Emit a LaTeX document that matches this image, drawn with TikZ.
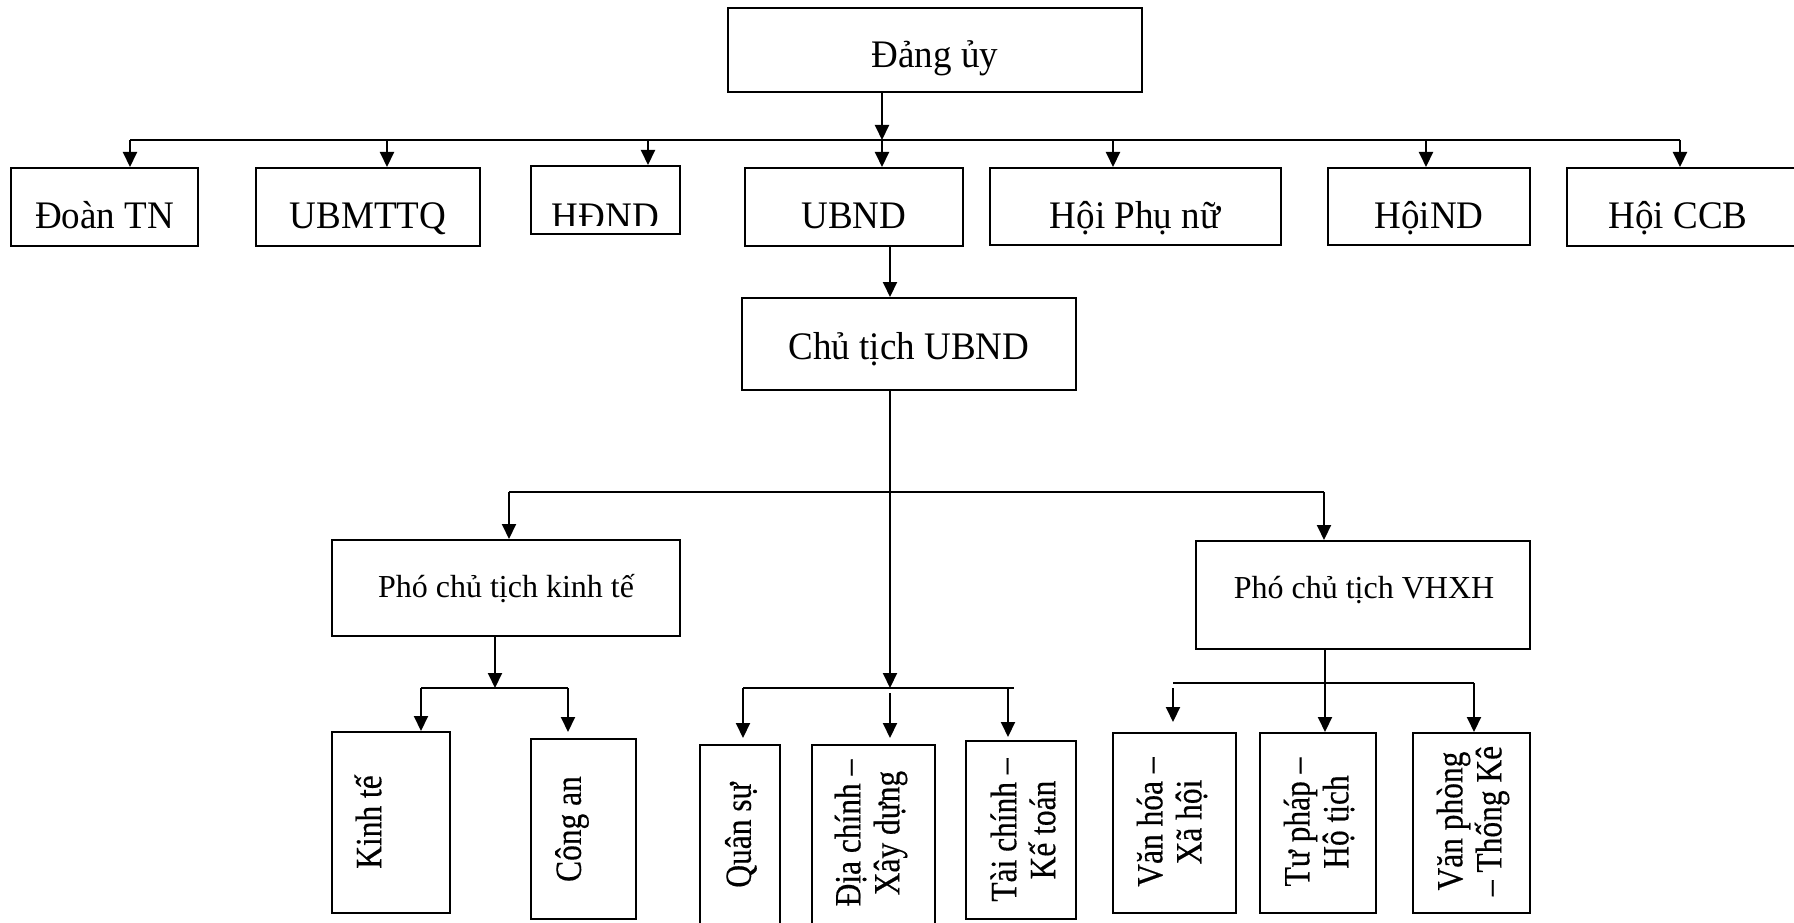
\documentclass[tikz,border=0pt]{standalone}
\usepackage{fontspec}
\setmainfont{Liberation Serif}
\newfontfamily\bigfont[FakeStretch=0.95]{Liberation Serif}
\newfontfamily\rotfont[FakeStretch=0.85,FakeBold=0.4]{Liberation Serif}
\usetikzlibrary{arrows.meta,fit}
\begin{document}
\begin{tikzpicture}[x=1pt,y=-1pt,
  box/.style={draw,line width=2pt,inner sep=0pt},
  ln/.style={line width=2pt},
  arr/.style={line width=2pt,-{Triangle[width=14pt,length=15pt]}},
  big/.style={font=\bigfont\fontsize{39}{46}\selectfont,inner sep=0pt,anchor=base},
  mid/.style={font=\fontsize{32}{38}\selectfont,inner sep=0pt,anchor=base},
  rot/.style={font=\rotfont\fontsize{37}{39}\selectfont,inner sep=0pt,rotate=90,align=center}]
\useasboundingbox (0,0) rectangle (1794,923);
% boxes
\node[box,fit={(728,8) (1142,92)}] (dang) {};
\node[box,fit={(11,168) (198,246)}] (doan) {};
\node[box,fit={(256,168) (480,246)}] (ubm) {};
\node[box,fit={(531,166) (680,234)}] (hdnd) {};
\node[box,fit={(745,168) (963,246)}] (ubnd) {};
\node[box,fit={(990,168) (1281,245)}] (phunu) {};
\node[box,fit={(1328,168) (1530,245)}] (hnd) {};
\node[box,fit={(1567,168) (1810,246)}] (ccb) {};
\node[box,fit={(742,298) (1076,390)}] (ct) {};
\node[box,fit={(332,540) (680,636)}] (pkt) {};
\node[box,fit={(1196,541) (1530,649)}] (pvh) {};
\node[box,fit={(332,732) (450,913)}] (kt) {};
\node[box,fit={(531,739) (636,919)}] (ca) {};
\node[box,fit={(700,745) (780,935)}] (qs) {};
\node[box,fit={(812,745) (935,935)}] (dc) {};
\node[box,fit={(966,741) (1076,919)}] (tc) {};
\node[box,fit={(1113,733) (1236,913)}] (vh) {};
\node[box,fit={(1260,733) (1376,913)}] (tp) {};
\node[box,fit={(1413,733) (1530,913)}] (vp) {};
% labels
\node[big] (tdang) at (935,68) {Đảng ủy};
\node[big] (tdoan) at (104.5,228) {Đoàn TN};
\node[big] (tubm) at (368,228) {UBMTTQ};
\begin{scope}
\clip (531,166) rectangle (680,225);
\node[big] (thdnd) at (605.5,229) {HĐND};
\end{scope}
\node[big] (tubnd) at (854,228) {UBND};
\node[big] (tphunu) at (1135,228) {Hội Phụ nữ};
\node[big] (thnd) at (1429,228) {HộiND};
\node[big] (tccb) at (1678,228) {Hội CCB};
\node[big] (tct) at (909,359) {Chủ tịch UBND};
\node[mid] (tpkt) at (506,597) {Phó chủ tịch kinh tế};
\node[mid] (tpvh) at (1364,598) {Phó chủ tịch VHXH};
\node[rot] (tkt) at (368,822) {Kinh tế};
\node[rot] (tca) at (572,829) {Công an};
\node[rot] (tqs) at (741,835) {Quân sự};
\node[rot] (tdc) at (871,833) {Địa chính –\\Xây dựng};
\node[rot] (ttc) at (1023,830) {Tài chính –\\Kế toán};
\node[rot] (tvh) at (1172,822) {Văn hóa –\\Xã hội};
\node[rot] (ttp) at (1319,822) {Tư pháp –\\Hộ tịch};
\node[rot] (tvp) at (1473,821) {Văn phòng\\– Thống Kê};
% top bus
\coordinate (j0) at (882,140);
\coordinate (b1L) at (130,140);
\coordinate (b1b) at (387,140);
\coordinate (b1c) at (648,140);
\coordinate (b1e) at (1113,140);
\coordinate (b1f) at (1426,140);
\coordinate (b1R) at (1680,140);
\draw[arr] (dang.south -| j0) -- (j0);
\draw[ln] (b1L) -- (b1R);
\draw[arr] (b1L) -- (b1L |- doan.north);
\draw[arr] (b1b) -- (b1b |- ubm.north);
\draw[arr] (b1c) -- (b1c |- hdnd.north);
\draw[arr] (j0) -- (j0 |- ubnd.north);
\draw[arr] (b1e) -- (b1e |- phunu.north);
\draw[arr] (b1f) -- (b1f |- hnd.north);
\draw[arr] (b1R) -- (b1R |- ccb.north);
% UBND -> Chu tich
\coordinate (xc) at (890,268);
\draw[arr] (ubnd.south -| xc) -- (ct.north -| xc);
% Chu tich -> middle bus
\coordinate (b4c) at (890,688);
\draw[arr] (ct.south -| b4c) -- (b4c);
% bus 2
\coordinate (b2L) at (509,492);
\coordinate (b2R) at (1324,492);
\draw[ln] (b2L) -- (b2R);
\draw[arr] (b2L) -- (b2L |- pkt.north);
\draw[arr] (b2R) -- (b2R |- pvh.north);
% left group
\coordinate (b3c) at (495,688);
\coordinate (b3L) at (421,688);
\coordinate (b3R) at (568,688);
\coordinate (caTip) at (568,732);
\draw[arr] (pkt.south -| b3c) -- (b3c);
\draw[ln] (b3L) -- (b3R);
\draw[arr] (b3L) -- (b3L |- kt.north);
\draw[arr] (b3R) -- (caTip);
% middle group
\coordinate (b4L) at (743,688);
\coordinate (b4R) at (1014,688);
\coordinate (qsTip) at (743,738);
\coordinate (dcS) at (890,693);
\coordinate (dcTip) at (890,738);
\coordinate (tcS) at (1008,688);
\coordinate (tcTip) at (1008,737);
\draw[ln] (b4L) -- (b4R);
\draw[arr] (b4L) -- (qsTip);
\draw[arr] (dcS) -- (dcTip);
\draw[arr] (tcS) -- (tcTip);
% right group
\coordinate (xr) at (1325,700);
\coordinate (b5L) at (1173,683);
\coordinate (b5R) at (1474,683);
\coordinate (vhS) at (1173,688);
\coordinate (vhTip) at (1173,722);
\draw[arr] (pvh.south -| xr) -- (tp.north -| xr);
\draw[ln] (b5L) -- (b5R);
\draw[arr] (vhS) -- (vhTip);
\draw[arr] (b5R) -- (b5R |- vp.north);
\end{tikzpicture}
\end{document}
